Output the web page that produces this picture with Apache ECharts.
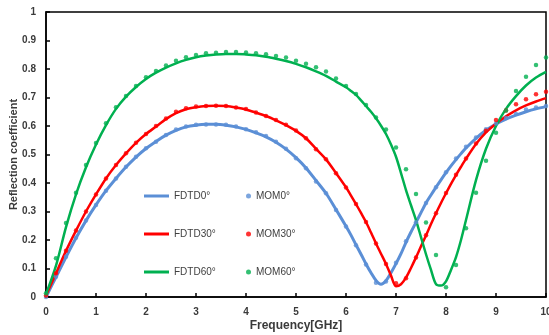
<!DOCTYPE html>
<html>
<head>
<meta charset="utf-8" />
<script src="https://cdn.jsdelivr.net/npm/echarts@6/dist/echarts.min.js"></script>
<style>
  html, body { margin: 0; padding: 0; background: #fff; }
  #chart { width: 549px; height: 335px; }
</style>
</head>
<body>
<div id="chart"></div>
<script>
// FDTD curves (finer step around the dips)
const fdtdFreq = [
  0, 0.2, 0.4, 0.6, 0.8, 1.0, 1.2, 1.4, 1.6, 1.8, 2.0, 2.2, 2.4, 2.6, 2.8, 3.0,
  3.2, 3.4, 3.6, 3.8, 4.0, 4.2, 4.4, 4.6, 4.8, 5.0, 5.2, 5.4, 5.6, 5.8, 6.0,
  6.1, 6.2, 6.3, 6.4, 6.5, 6.6, 6.7, 6.8, 6.9, 7.0, 7.1, 7.2, 7.3, 7.4, 7.5,
  7.6, 7.7, 7.8, 7.9, 8.0, 8.1, 8.2, 8.3, 8.4, 8.6, 8.8, 9.0, 9.2, 9.4, 9.6,
  9.8, 10
];
const fdtd0 = [
  0, 0.07, 0.14, 0.207, 0.268, 0.323, 0.373, 0.416, 0.456, 0.491, 0.521, 0.546, 0.568, 0.585, 0.597, 0.603,
  0.606, 0.606, 0.603, 0.597, 0.588, 0.576, 0.562, 0.543, 0.519, 0.489, 0.453, 0.409, 0.364, 0.307, 0.248,
  0.217, 0.183, 0.150, 0.116, 0.085, 0.058, 0.045, 0.057, 0.085, 0.117, 0.152, 0.192, 0.228, 0.262, 0.296,
  0.330, 0.358, 0.385, 0.411, 0.436, 0.460, 0.482, 0.503, 0.523, 0.557, 0.585, 0.607, 0.624, 0.638, 0.650,
  0.660, 0.668
];
const fdtd30 = [
  0.005, 0.083, 0.162, 0.233, 0.30, 0.36, 0.416, 0.463, 0.504, 0.541, 0.572, 0.598, 0.624, 0.645, 0.659, 0.666,
  0.670, 0.671, 0.670, 0.665, 0.658, 0.647, 0.635, 0.620, 0.603, 0.583, 0.557, 0.520, 0.483, 0.435, 0.385,
  0.356, 0.326, 0.295, 0.263, 0.226, 0.188, 0.152, 0.116, 0.075, 0.038, 0.045, 0.068, 0.102, 0.139, 0.178,
  0.216, 0.256, 0.294, 0.330, 0.364, 0.397, 0.428, 0.457, 0.485, 0.537, 0.578, 0.608, 0.634, 0.655, 0.672,
  0.686, 0.698
];
const fdtd60 = [
  0.01, 0.11, 0.245, 0.36, 0.455, 0.535, 0.603, 0.66, 0.703, 0.737, 0.765, 0.787, 0.805, 0.82, 0.832, 0.841,
  0.847, 0.851, 0.853, 0.853, 0.851, 0.848, 0.843, 0.836, 0.828, 0.818, 0.806, 0.792, 0.776, 0.756, 0.736,
  0.723, 0.709, 0.690, 0.670, 0.650, 0.627, 0.601, 0.572, 0.535, 0.492, 0.435, 0.375, 0.322, 0.270, 0.21,
  0.15, 0.095, 0.045, 0.040, 0.055, 0.095, 0.14, 0.20, 0.27, 0.41, 0.52, 0.60, 0.66, 0.705, 0.742,
  0.77, 0.79
];

// MOM points, every 0.2 GHz
const momFreq = [
  0, 0.2, 0.4, 0.6, 0.8, 1.0, 1.2, 1.4, 1.6, 1.8, 2.0, 2.2, 2.4, 2.6, 2.8, 3.0, 3.2,
  3.4, 3.6, 3.8, 4.0, 4.2, 4.4, 4.6, 4.8, 5.0, 5.2, 5.4, 5.6, 5.8, 6.0, 6.2, 6.4,
  6.6, 6.8, 7.0, 7.2, 7.4, 7.6, 7.8, 8.0, 8.2, 8.4, 8.6, 8.8, 9.0, 9.2, 9.4, 9.6,
  9.8, 10
];
const mom0 = [
  0, 0.071, 0.141, 0.208, 0.268, 0.323, 0.373, 0.416, 0.457, 0.492, 0.522, 0.545, 0.568, 0.588, 0.598, 0.604, 0.605,
  0.605, 0.604, 0.598, 0.589, 0.578, 0.565, 0.545, 0.52, 0.487, 0.452, 0.405, 0.364, 0.305, 0.247, 0.182, 0.114,
  0.05, 0.054, 0.12, 0.196, 0.262, 0.33, 0.385, 0.438, 0.486, 0.527, 0.56, 0.589, 0.609, 0.628, 0.642, 0.658,
  0.665, 0.67
];
const mom30 = [
  0.005, 0.083, 0.162, 0.233, 0.30, 0.36, 0.416, 0.463, 0.504, 0.541, 0.572, 0.60, 0.626, 0.650, 0.662, 0.668, 0.670,
  0.671, 0.670, 0.665, 0.660, 0.647, 0.635, 0.621, 0.604, 0.584, 0.557, 0.518, 0.483, 0.434, 0.384, 0.326, 0.263,
  0.188, 0.116, 0.048, 0.066, 0.139, 0.217, 0.294, 0.365, 0.429, 0.486, 0.539, 0.583, 0.621, 0.654, 0.676, 0.694,
  0.711, 0.72
];
const mom60 = [
  0.013, 0.136, 0.26, 0.366, 0.463, 0.54, 0.61, 0.666, 0.705, 0.74, 0.771, 0.793, 0.812, 0.829, 0.841, 0.849, 0.855,
  0.857, 0.86, 0.86, 0.858, 0.855, 0.852, 0.846, 0.84, 0.829, 0.818, 0.806, 0.791, 0.767, 0.740, 0.712, 0.674,
  0.630, 0.588, 0.525, 0.448, 0.361, 0.261, 0.147, 0.034, 0.112, 0.241, 0.366, 0.478, 0.576, 0.654, 0.723, 0.773,
  0.814, 0.84
];

const BLUE = "#5b8fd6";
const RED = "#ff0000";
const GREEN = "#00b050";

const pairs = (xs, ys) => xs.map((x, i) => [x, ys[i]]);

const labelFont = {
  color: "#3a3a3a",
  fontFamily: "Liberation Sans",
  fontWeight: "bold",
  fontSize: 10,
};

const lineSeries = (name, values, color, width) => ({
  name,
  type: "line",
  data: pairs(fdtdFreq, values),
  smooth: 0.3,
  showSymbol: false,
  z: 2,
  lineStyle: { color, width },
  itemStyle: { color },
});

const dotSeries = (name, values, color) => ({
  name,
  type: "scatter",
  data: pairs(momFreq, values),
  symbol: "circle",
  symbolSize: 4.5,
  z: 3,
  itemStyle: { color },
});

const legendText = {
  color: "#404040",
  fontFamily: "Liberation Sans Narrow, Liberation Sans",
  fontSize: 10,
};

const option = {
  animation: false,
  grid: {
    left: 46,
    right: 3,
    top: 12,
    bottom: 38,
    outerBoundsMode: "none",
    containLabel: false,
    show: true,
    borderColor: "#000",
    borderWidth: 1.5,
  },
  legend: [
    {
      data: ["FDTD0°", "FDTD30°", "FDTD60°"],
      orient: "vertical",
      left: 139,
      top: 186,
      itemWidth: 25,
      itemHeight: 3,
      itemGap: 28,
      icon: "rect",
      textStyle: legendText,
    },
    {
      data: ["MOM0°", "MOM30°", "MOM60°"],
      orient: "vertical",
      left: 241,
      top: 186,
      itemWidth: 5,
      itemHeight: 5,
      itemGap: 28,
      icon: "circle",
      textStyle: legendText,
    },
  ],
  xAxis: {
    type: "value",
    min: 0,
    max: 10,
    interval: 1,
    name: "Frequency[GHz]",
    nameLocation: "middle",
    nameGap: 23,
    nameMoveOverlap: false,
    nameTextStyle: { ...labelFont, fontSize: 12 },
    axisLine: { lineStyle: { color: "#000", width: 1.5 } },
    axisTick: { inside: true, length: 4, lineStyle: { color: "#000", width: 1.5 } },
    axisLabel: { ...labelFont, margin: 10 },
    splitLine: { show: false },
  },
  yAxis: {
    type: "value",
    min: 0,
    max: 1,
    interval: 0.1,
    name: "Reflection coefficient",
    nameLocation: "middle",
    nameGap: 27,
    nameMoveOverlap: false,
    nameTextStyle: { ...labelFont, fontSize: 11 },
    axisLine: { show: true, lineStyle: { color: "#000", width: 1.5 } },
    axisTick: { show: true, inside: true, length: 4, lineStyle: { color: "#000", width: 1.5 } },
    axisLabel: { ...labelFont, margin: 10 },
    splitLine: { show: false },
  },
  series: [
    lineSeries("FDTD0°", fdtd0, BLUE, 3),
    lineSeries("FDTD30°", fdtd30, RED, 2.5),
    lineSeries("FDTD60°", fdtd60, GREEN, 2.5),
    dotSeries("MOM0°", mom0, BLUE),
    dotSeries("MOM30°", mom30, RED),
    dotSeries("MOM60°", mom60, GREEN),
  ],
};

const myChart = echarts.init(document.getElementById("chart"));
myChart.setOption(option);
</script>
</body>
</html>
